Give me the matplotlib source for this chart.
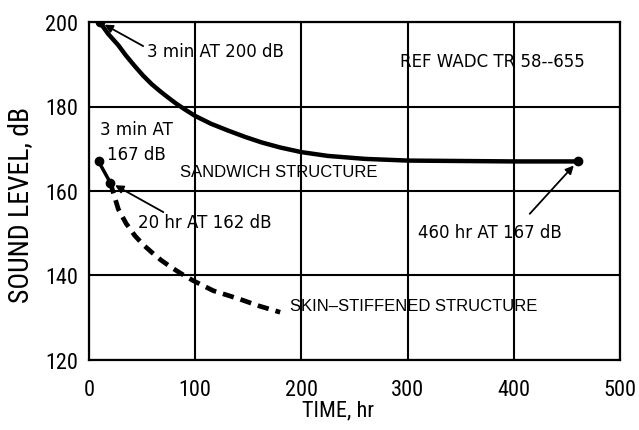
import matplotlib
matplotlib.use("Agg")
import matplotlib.pyplot as plt

# sandwich structure endurance curve
sandwich_time = [10, 18, 27.6, 35, 43.3, 51, 59, 67, 74.6, 82, 90.3, 99.7, 115, 131,
                 147, 162.5, 180, 200, 225, 260, 300, 350, 400, 460]
sandwich_db = [200, 197.2, 194.5, 192.0, 189.5, 187.3, 185.3, 183.6, 182.1, 180.7,
               179.3, 177.8, 175.9, 174.3, 172.8, 171.5, 170.3, 169.2, 168.3, 167.6,
               167.2, 167.1, 167.0, 167.0]

# skin-stiffened structure: measured points, then the dashed trend beyond them
skin_time = [9, 20]
skin_db = [167, 162]
skin_trend_time = [20, 27.6, 35, 43.3, 51, 59, 68, 77.7, 87, 98, 117, 142, 160, 180]
skin_trend_db = [162, 155.7, 152.3, 149.4, 147.3, 145.5, 143.6, 141.9, 140.4, 138.8,
                 136.4, 134.4, 132.8, 131.3]

x_ticks = [0, 100, 200, 300, 400, 500]
y_ticks = [120, 140, 160, 180, 200]

NARROW = ["Roboto Condensed", "Archivo Narrow", "PT Sans Narrow", "DejaVu Sans"]
NOTE = ["DejaVu Sans"]
LABEL = ["Liberation Sans", "DejaVu Sans"]

fig = plt.figure(figsize=(6.39, 4.31), dpi=100)
fig.patch.set_facecolor("white")
ax = fig.add_axes([89 / 639, 70 / 431, 531 / 639, 338 / 431])

ax.set_xlim(0, 500)
ax.set_ylim(120, 200)
ax.set_xticks(x_ticks)
ax.set_yticks(y_ticks)
ax.set_xticklabels([str(v) for v in x_ticks], family=NARROW, fontsize=16)
ax.set_yticklabels([str(v) for v in y_ticks], family=NARROW, fontsize=16)
ax.tick_params(length=0)
ax.tick_params(axis="x", pad=14)
ax.tick_params(axis="y", pad=8)
ax.grid(True, color="black", linewidth=1.5)
ax.set_axisbelow(True)
for spine in ax.spines.values():
    spine.set_linewidth(1.6)
    spine.set_color("black")

ax.set_xlabel("TIME, hr", family=NARROW, fontsize=16)
ax.xaxis.set_label_coords(0.469, -0.118)
ax.set_ylabel("SOUND LEVEL, dB", family=NARROW, fontsize=20)
ax.yaxis.set_label_coords(-0.104, 0.462)

ax.plot(sandwich_time, sandwich_db, color="black", linewidth=3.2, solid_capstyle="round",
        solid_joinstyle="round", zorder=3)
ax.plot([sandwich_time[0], sandwich_time[-1]], [sandwich_db[0], sandwich_db[-1]],
        linestyle="none", marker="o", markersize=6, color="black", zorder=4)

ax.plot(skin_trend_time, skin_trend_db, color="black", linewidth=3.4,
        dashes=(2.4, 1.5), zorder=3)
ax.plot(skin_time, skin_db, color="black", linewidth=2.5, marker="o", markersize=6,
        zorder=4)

arrow = dict(arrowstyle="-|>", color="black", lw=1.3, mutation_scale=12,
             shrinkA=0, shrinkB=4)
ax.annotate("", xy=(sandwich_time[0], sandwich_db[0]), xytext=(51, 194.3),
            arrowprops=arrow)
ax.annotate("", xy=(skin_time[1], skin_db[1]), xytext=(70, 155.0), arrowprops=arrow)
ax.annotate("", xy=(sandwich_time[-1], sandwich_db[-1]), xytext=(415, 154.6),
            arrowprops=arrow)

note = dict(family=NOTE, fontsize=12, ha="left", va="center", color="black")
ax.text(55, 193.1, "3 min AT 200 dB", **note)
ax.text(293, 190.8, "REF WADC TR 58--655", **note)
ax.text(10.5, 174.7, "3 min AT", **note)
ax.text(17, 168.8, "167 dB", **note)
ax.text(46, 152.7, "20 hr AT 162 dB", **note)
ax.text(310, 150.3, "460 hr AT 167 dB", **note)

label = dict(family=LABEL, fontsize=12, ha="left", va="center", color="black")
ax.text(86, 164.5, "SANDWICH STRUCTURE", **label)
ax.text(189, 132.8, "SKIN–STIFFENED STRUCTURE", **label)

fig.savefig("out.png", dpi=100, facecolor="white")
plt.close(fig)
